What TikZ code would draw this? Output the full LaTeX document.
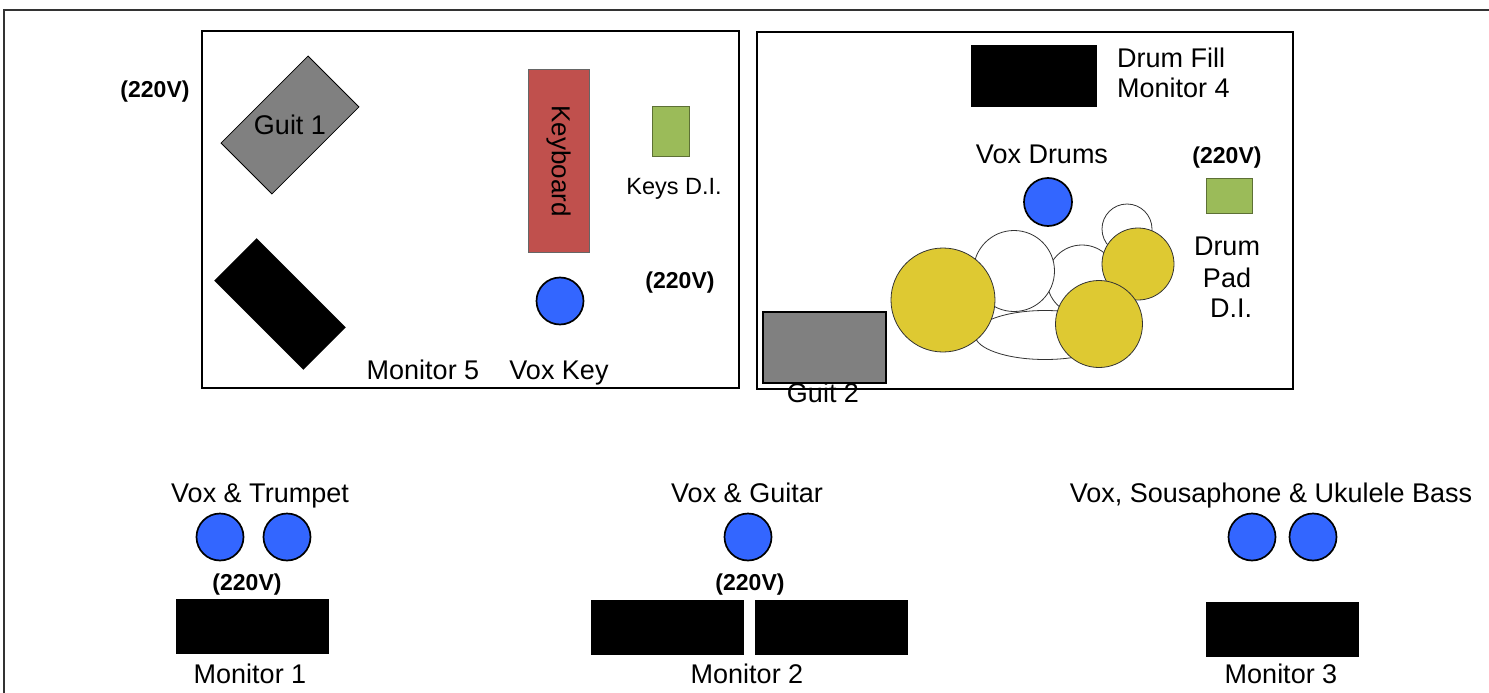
\documentclass[tikz,border=0pt]{standalone}
\usepackage{fontspec}
\setmainfont{Liberation Sans}
\usepackage{xcolor}
\usetikzlibrary{positioning,shapes.geometric}

\definecolor{micblue}{HTML}{3366FF}
\definecolor{digreen}{HTML}{9BBB59}
\definecolor{keyred}{HTML}{C0504D}
\definecolor{guitgray}{HTML}{808080}
\definecolor{cymyellow}{HTML}{DEC932}

\begin{document}
\begin{tikzpicture}[x=1pt,y=-1pt]
    \tikzset{every node/.style={inner sep=0pt},
      lbl/.style={font=\fontsize{27}{32}\selectfont,anchor=base},
      volt/.style={font=\bfseries\fontsize{23}{26}\selectfont,anchor=base},
      stagebox/.style={draw,line width=2pt,minimum width=537pt,minimum height=357pt},
      wedgemon/.style={fill=black,minimum width=153pt,minimum height=55pt},
      mic/.style={circle,draw,line width=1.7pt,fill=micblue,minimum size=47pt},
      dibox/.style={draw=digreen!60!black,fill=digreen,line width=1pt},
      drum/.style={draw=black!80,fill=white,line width=0.8pt},
      cymbal/.style={circle,draw=black!80,fill=cymyellow,line width=0.8pt}}

    \useasboundingbox (0,0) rectangle (1489,693);
    \draw[line width=2pt,black!80] (4,693) -- (4,10) -- (1489,10);

    % left riser
    \node[volt] at (155,98) {(220V)};
    \node[stagebox] (leftstage) at (470.5,209.5) {};
    \node[draw,fill=guitgray,line width=0.8pt,minimum width=123pt,minimum height=72pt,rotate=45] (guit1) at (290,125) {};
    \node[lbl,anchor=center] at (guit1.center) {Guit 1};
    \node[fill=black,minimum width=126pt,minimum height=60pt,rotate=-45] (mon5) at (280,304) {};
    \node[draw=black!60,fill=keyred,line width=1pt,minimum width=182pt,minimum height=61pt,
          rotate=-90,font=\fontsize{26}{32}\selectfont] (keyboard) at (558.5,161) {Keyboard};
    \node[dibox,minimum width=37pt,minimum height=50pt] (keysdi) at (670.5,131) {};
    \node[lbl,font=\fontsize{23.5}{28}\selectfont] at (674,194) {Keys D.I.};
    \node[volt] at (680,288) {(220V)};
    \node[mic] (voxkey) at (560,301) {};
    \node[lbl] at (423,379) {Monitor 5};
    \node[lbl] at (559,379) {Vox Key};

    % drum riser
    \node[stagebox,minimum width=536pt] (drumstage) at (1025,210.5) {};
    \node[fill=black,minimum width=126pt,minimum height=62pt] (mon4) at (1034,76) {};
    \node[lbl,anchor=base west] at (1117,67) {Drum Fill};
    \node[lbl,anchor=base west] at (1117,98) {Monitor 4};
    \node[lbl] at (1042,163) {Vox Drums};
    \node[volt] at (1227,163) {(220V)};
    \node[dibox,minimum width=46pt,minimum height=35pt] (drumdi) at (1229,195.5) {};
    \node[lbl] at (1227,255) {Drum};
    \node[lbl] at (1227,287) {Pad};
    \node[lbl] at (1231,317) {D.I.};

    \node[drum,circle,minimum size=50pt] (crash) at (1127,229) {};
    \node[drum,circle,minimum size=70pt] (tom2) at (1082,280) {};
    \node[drum,circle,minimum size=81pt] (tom1) at (1014,271) {};
    \node[drum,ellipse,minimum width=140pt,minimum height=49pt] (kick) at (1045,335) {};
    \node[cymbal,minimum size=104pt] (ride) at (943,300) {};
    \node[cymbal,minimum size=72pt] (hihat) at (1138,264) {};
    \node[cymbal,minimum size=87pt] (floor) at (1099,324) {};
    \node[mic,minimum size=48pt] (voxdrums) at (1048,202) {};

    \node[draw,fill=guitgray,line width=2pt,minimum width=123pt,minimum height=71pt] (guit2) at (824.5,347.5) {};
    \node[lbl] at (823,402) {Guit 2};

    % front line
    \node[lbl] at (260,502) {Vox \& Trumpet};
    \node[mic] (voxtpt) at (220,537) {};
    \node[mic] (trumpet) at (287,537) {};
    \node[volt] at (247,590) {(220V)};
    \node[wedgemon] (mon1) at (252.5,626) {};
    \node[lbl] at (250,683) {Monitor 1};

    \node[lbl] at (747,502) {Vox \& Guitar};
    \node[mic] (voxgtr) at (748,537) {};
    \node[volt] at (750,590) {(220V)};
    \node[wedgemon] (mon2a) at (667,627.5) {};
    \node[wedgemon] (mon2b) at (831,627.5) {};
    \node[lbl] at (747,683) {Monitor 2};

    \node[lbl] at (1271,502) {Vox, Sousaphone \& Ukulele Bass};
    \node[mic] (voxsousa) at (1252,537) {};
    \node[mic] (ukebass) at (1313,537) {};
    \node[wedgemon] (mon3) at (1282,629.5) {};
    \node[lbl] at (1281,683) {Monitor 3};
\end{tikzpicture}
\end{document}
